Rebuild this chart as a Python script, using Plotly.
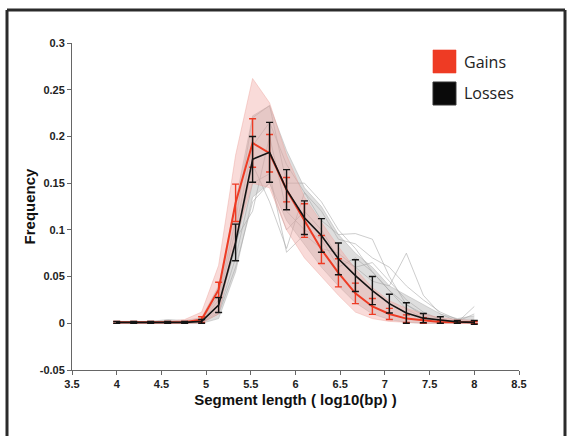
import plotly.graph_objects as go

# ---- data ----
x_vals = [4.0, 4.19, 4.38, 4.57, 4.76, 4.95, 5.14, 5.33, 5.52, 5.71, 5.9,
          6.1, 6.29, 6.48, 6.67, 6.86, 7.05, 7.24, 7.43, 7.62, 7.81, 8.0]

gains_mean = [0.001, 0.001, 0.001, 0.001, 0.001, 0.004, 0.036, 0.129, 0.193, 0.182, 0.143,
              0.110, 0.079, 0.054, 0.032, 0.018, 0.010, 0.005, 0.003, 0.0015, 0.001, 0.001]
gains_err = [0.001, 0.001, 0.001, 0.001, 0.001, 0.003, 0.008, 0.020, 0.026, 0.020, 0.013,
             0.018, 0.015, 0.015, 0.011, 0.0085, 0.006, 0.004, 0.003, 0.0015, 0.001, 0.001]

losses_mean = [0.001, 0.001, 0.001, 0.001, 0.001, 0.002, 0.0195, 0.0865, 0.1755, 0.183, 0.143,
               0.113, 0.094, 0.069, 0.051, 0.035, 0.021, 0.011, 0.0055, 0.0035, 0.0015, 0.001]
losses_err = [0.001, 0.001, 0.001, 0.001, 0.001, 0.002, 0.008, 0.0196, 0.0245, 0.032, 0.0215,
              0.018, 0.018, 0.017, 0.017, 0.015, 0.010, 0.011, 0.005, 0.0035, 0.0015, 0.002]

# dense spread of the individual (thin) sample curves
gains_upper = [0.002, 0.002, 0.002, 0.002, 0.004, 0.012, 0.062, 0.180, 0.262, 0.236, 0.180,
               0.135, 0.108, 0.082, 0.058, 0.038, 0.024, 0.016, 0.010, 0.006, 0.004, 0.003]
gains_lower = [0.0, 0.0, 0.0, 0.0, 0.0, 0.0, 0.010, 0.090, 0.150, 0.145, 0.100,
               0.070, 0.050, 0.030, 0.012, 0.005, 0.002, 0.001, 0.0, 0.0, 0.0, 0.0]
losses_upper = [0.002, 0.002, 0.002, 0.004, 0.003, 0.006, 0.040, 0.130, 0.222, 0.233, 0.185,
                0.145, 0.125, 0.095, 0.075, 0.060, 0.040, 0.030, 0.020, 0.010, 0.005, 0.008]
losses_lower = [0.0, 0.0, 0.0, 0.0, 0.0, 0.0, 0.005, 0.055, 0.135, 0.150, 0.110,
                0.085, 0.060, 0.040, 0.022, 0.010, 0.004, 0.001, 0.0, 0.0, 0.0, 0.0]

# a few clearly visible individual loss curves (sparse outliers)
loss_sample_a = [0.0, 0.0, 0.0, 0.001, 0.0, 0.001, 0.010, 0.060, 0.130, 0.150, 0.100,
                 0.120, 0.100, 0.070, 0.060, 0.045, 0.040, 0.075, 0.030, 0.010, 0.002, 0.001]
loss_sample_b = [0.0, 0.0, 0.0, 0.0, 0.001, 0.002, 0.020, 0.080, 0.170, 0.130, 0.080,
                 0.140, 0.110, 0.095, 0.096, 0.090, 0.050, 0.020, 0.008, 0.003, 0.001, 0.0]
loss_sample_c = [0.0, 0.0, 0.0, 0.0, 0.0, 0.001, 0.015, 0.090, 0.120, 0.200, 0.120,
                 0.100, 0.090, 0.060, 0.070, 0.055, 0.035, 0.015, 0.006, 0.002, 0.001, 0.018]
loss_sample_d = [0.0, 0.0, 0.0, 0.002, 0.0, 0.003, 0.030, 0.110, 0.220, 0.233, 0.150,
                 0.150, 0.130, 0.100, 0.080, 0.055, 0.035, 0.020, 0.010, 0.005, 0.002, 0.010]
loss_sample_e = [0.0, 0.0, 0.0, 0.0, 0.001, 0.001, 0.012, 0.070, 0.150, 0.160, 0.076,
                 0.095, 0.080, 0.075, 0.060, 0.065, 0.045, 0.025, 0.012, 0.004, 0.001, 0.002]
loss_sample_f = [0.0, 0.0, 0.0, 0.0, 0.0, 0.002, 0.025, 0.100, 0.190, 0.215, 0.170,
                 0.140, 0.120, 0.090, 0.085, 0.070, 0.060, 0.040, 0.025, 0.012, 0.004, 0.003]

x_ticks = [3.5, 4, 4.5, 5, 5.5, 6, 6.5, 7, 7.5, 8, 8.5]
y_ticks = [-0.05, 0, 0.05, 0.1, 0.15, 0.2, 0.25, 0.3]
y_tick_text = ["-0.05", "0", "0.05", "0.1", "0.15", "0.2", "0.25", "0.3"]
x_tick_text = ["3.5", "4", "4.5", "5", "5.5", "6", "6.5", "7", "7.5", "8", "8.5"]

RED = "rgb(238,59,36)"
BLACK = "rgb(20,20,20)"

fig = go.Figure()

# gray (losses) spread band
fig.add_trace(go.Scatter(x=x_vals, y=losses_lower, mode="lines",
                         line=dict(color="rgba(175,175,175,0.7)", width=0.7),
                         hoverinfo="skip"))
fig.add_trace(go.Scatter(x=x_vals, y=losses_upper, mode="lines", fill="tonexty",
                         fillcolor="rgba(195,195,195,0.55)",
                         line=dict(color="rgba(175,175,175,0.7)", width=0.7),
                         hoverinfo="skip"))

for s in [loss_sample_a, loss_sample_b, loss_sample_c, loss_sample_d,
          loss_sample_e, loss_sample_f]:
    fig.add_trace(go.Scatter(x=x_vals, y=s, mode="lines",
                             line=dict(color="rgba(165,165,165,0.7)", width=0.8),
                             hoverinfo="skip"))

# pink (gains) spread band
fig.add_trace(go.Scatter(x=x_vals, y=gains_lower, mode="lines",
                         line=dict(color="rgba(235,160,155,0.6)", width=0.7),
                         hoverinfo="skip"))
fig.add_trace(go.Scatter(x=x_vals, y=gains_upper, mode="lines", fill="tonexty",
                         fillcolor="rgba(240,170,165,0.42)",
                         line=dict(color="rgba(235,160,155,0.6)", width=0.7),
                         hoverinfo="skip"))

# mean curves with error bars
fig.add_trace(go.Scatter(x=x_vals, y=gains_mean, mode="lines", name="Gains",
                         line=dict(color=RED, width=2),
                         error_y=dict(type="data", array=gains_err, color=RED,
                                      thickness=1.4, width=3.5)))
fig.add_trace(go.Scatter(x=x_vals, y=losses_mean, mode="lines", name="Losses",
                         line=dict(color=BLACK, width=1.6),
                         error_y=dict(type="data", array=losses_err, color=BLACK,
                                      thickness=1.4, width=3.5)))

tickfont = dict(family="Liberation Sans, Arial, sans-serif", size=11, color="#222",
                weight="bold")
titlefont = dict(family="Liberation Sans, Arial, sans-serif", size=15, color="#111",
                 weight="bold")

fig.update_xaxes(range=[3.5, 8.5], tickvals=x_ticks, ticktext=x_tick_text,
                 showline=True, linecolor="#666", linewidth=1, mirror=False,
                 ticks="outside", ticklen=4, tickcolor="#666", showgrid=False,
                 zeroline=False, tickfont=tickfont,
                 title=dict(text="Segment length ( log10(bp) )", standoff=5, font=titlefont))
fig.update_yaxes(range=[-0.05, 0.3], tickvals=y_ticks, ticktext=y_tick_text,
                 showline=True, linecolor="#666", linewidth=1, mirror=False,
                 ticks="outside", ticklen=4, tickcolor="#666", showgrid=False,
                 zeroline=False, tickfont=tickfont,
                 title=dict(text="Frequency", standoff=0, font=titlefont))

# outer frame
frame = dict(color="#2b2b2b", width=3)
L, R, T, B = -0.1454, 1.1029, 1.1009, -0.4
fig.add_shape(type="line", xref="paper", yref="paper", x0=L, x1=L, y0=B, y1=T, line=frame)
fig.add_shape(type="line", xref="paper", yref="paper", x0=L, x1=R, y0=T, y1=T, line=frame)
fig.add_shape(type="line", xref="paper", yref="paper", x0=R, x1=R, y0=B, y1=T, line=frame)

# legend
fig.add_shape(type="rect", xref="paper", yref="paper", x0=0.8076, x1=0.859, y0=0.9083,
              y1=0.9786, fillcolor=RED, line=dict(color="rgba(238,59,36,0.6)", width=1))
fig.add_shape(type="rect", xref="paper", yref="paper", x0=0.8076, x1=0.859, y0=0.8104,
              y1=0.8807, fillcolor="rgb(10,10,10)", line=dict(color="#333", width=1))
legend_font = dict(family="Open Sans, sans-serif", size=16, color="#222")
fig.add_annotation(xref="paper", yref="paper", x=0.872, y=0.9434, text="Gains",
                   showarrow=False, xanchor="left", yanchor="middle", font=legend_font)
fig.add_annotation(xref="paper", yref="paper", x=0.872, y=0.8456, text="Losses",
                   showarrow=False, xanchor="left", yanchor="middle", font=legend_font)

fig.update_layout(width=567, height=436, margin=dict(l=72, r=48, t=43, b=66),
                  plot_bgcolor="white", paper_bgcolor="white", showlegend=False)

fig.write_html("out.html", config={"displayModeBar": False},
               post_script="document.body.style.margin='0';document.body.style.overflow='hidden';")
